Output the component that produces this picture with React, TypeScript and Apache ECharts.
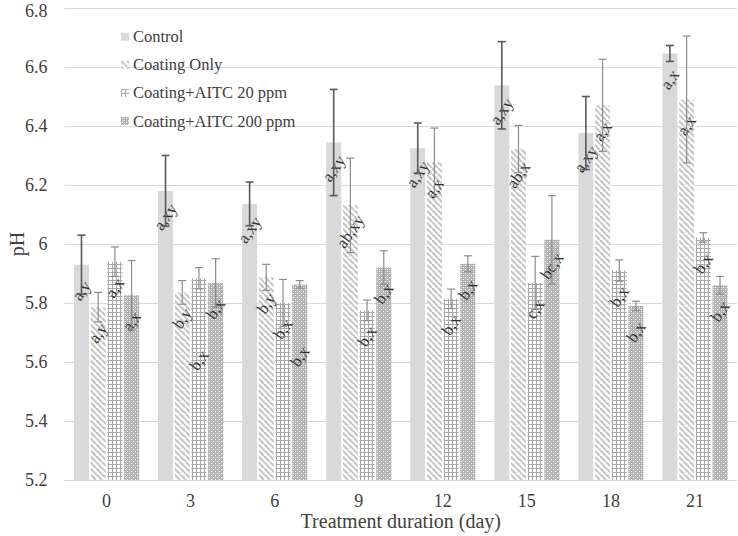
import React, { useEffect, useRef } from "react";
import * as echarts from "echarts";

const days = ["0", "3", "6", "9", "12", "15", "18", "21"];
const seriesNames = ["Control", "Coating Only", "Coating+AITC 20 ppm", "Coating+AITC 200 ppm"];

const controlMean = [5.93, 6.18, 6.136, 6.344, 6.325, 6.538, 6.376, 6.646];
const controlErr = [0.1, 0.12, 0.074, 0.18, 0.085, 0.148, 0.124, 0.027];
const coatingMean = [5.786, 5.836, 5.887, 6.131, 6.277, 6.322, 6.47, 6.49];
const coatingErr = [0.05, 0.04, 0.044, 0.16, 0.116, 0.08, 0.156, 0.215];
const aitc20Mean = [5.94, 5.884, 5.8, 5.775, 5.814, 5.868, 5.91, 6.022];
const aitc20Err = [0.05, 0.036, 0.08, 0.035, 0.033, 0.09, 0.036, 0.016];
const aitc200Mean = [5.826, 5.868, 5.863, 5.92, 5.933, 6.014, 5.79, 5.86];
const aitc200Err = [0.118, 0.082, 0.013, 0.057, 0.027, 0.15, 0.016, 0.03];

const controlLetters = ["a,y", "a,xy", "a,xy", "a,xy", "a,xy", "a,xy", "a,xy", "a,x"];
const coatingLetters = ["a,y", "b,y", "b,y", "ab,xy", "a,x", "ab,x", "a,x", "a,x"];
const aitc20Letters = ["a,x", "b,x", "b,x", "b,x", "b,x", "c,x", "b,x", "b,x"];
const aitc200Letters = ["a,x", "b,x", "b,x", "b,x", "b,x", "bc,x", "b,x", "b,x"];

const yTicks = { min: 5.2, max: 6.8, interval: 0.2 };

// layout tweaks (pixels): label distance below bar top, with a few manual exceptions
const LABEL_DROP = 26;
const labelDropOverride: Record<string, number> = { "1-2": 82, "2-3": 72 };
const BAR_W = 15;
const BAR_GAP = 1.7;

function tile(w: number, h: number, draw: (c: CanvasRenderingContext2D) => void) {
  const c = document.createElement("canvas");
  c.width = w;
  c.height = h;
  const ctx = c.getContext("2d")!;
  draw(ctx);
  return c;
}

export default function App() {
  const ref = useRef<HTMLDivElement>(null);
  useEffect(() => {
    if (!ref.current) return;
    const chart = echarts.init(ref.current, undefined, { renderer: "svg" });

    const stripes = tile(6, 6, (ctx) => {
      ctx.fillStyle = "#ffffff";
      ctx.fillRect(0, 0, 6, 6);
      ctx.strokeStyle = "#c6c6c6";
      ctx.lineWidth = 2.2;
      for (const o of [-6, 0, 6]) {
        ctx.beginPath();
        ctx.moveTo(o, 0);
        ctx.lineTo(o + 6, 6);
        ctx.stroke();
      }
    });
    const grid = tile(4, 4, (ctx) => {
      ctx.fillStyle = "#ffffff";
      ctx.fillRect(0, 0, 4, 4);
      ctx.fillStyle = "#a8a8a8";
      ctx.fillRect(0, 0, 4, 1);
      ctx.fillRect(0, 0, 1, 4);
    });
    const dots = tile(4, 4, (ctx) => {
      ctx.fillStyle = "#b0b0b0";
      ctx.fillRect(0, 0, 4, 4);
      ctx.fillStyle = "#ffffff";
      ctx.fillRect(1, 1, 1, 1);
      ctx.fillRect(3, 3, 1, 1);
      ctx.fillStyle = "#d2d2d2";
      ctx.fillRect(1, 3, 1, 1);
      ctx.fillRect(3, 1, 1, 1);
    });
    const pat = (c: HTMLCanvasElement) => ({
      image: c,
      repeat: "repeat",
      imageWidth: c.width,
      imageHeight: c.height,
    });

    const means = [controlMean, coatingMean, aitc20Mean, aitc200Mean];
    const errs = [controlErr, coatingErr, aitc20Err, aitc200Err];
    const letters = [controlLetters, coatingLetters, aitc20Letters, aitc200Letters];
    const fills: any[] = ["#d9d9d9", pat(stripes), pat(grid), pat(dots)];

    const errData: any[] = [];
    means.forEach((m, si) =>
      m.forEach((v, ci) => errData.push([ci, v, errs[si][ci], si, letters[si][ci]]))
    );

    const font = '"Liberation Serif", "Times New Roman", serif';

    chart.setOption({
      animation: false,
      textStyle: { fontFamily: font },
      grid: {
        left: 64.5,
        right: 1,
        top: 8,
        bottom: 56,
        containLabel: false,
        outerBoundsMode: "none",
      },
      legend: {
        data: seriesNames,
        orient: "vertical",
        left: 121,
        top: 28.2,
        padding: 0,
        itemWidth: 8,
        itemHeight: 8,
        itemGap: 11.1,
        icon: "rect",
        textStyle: { fontFamily: font, fontSize: 16.5, color: "#404040", lineHeight: 16, padding: [0, 0, 0, -1] },
      },
      xAxis: {
        type: "category",
        data: days,
        name: "Treatment duration (day)",
        nameLocation: "middle",
        nameGap: 33,
        nameMoveOverlap: false,
        nameTextStyle: { fontFamily: font, fontSize: 20, color: "#404040", lineHeight: 16 },
        axisLine: { lineStyle: { color: "#d9d9d9", width: 1 } },
        axisTick: { show: false },
        axisLabel: { fontFamily: font, fontSize: 18, color: "#404040", margin: 14, lineHeight: 13 },
      },
      yAxis: {
        type: "value",
        min: yTicks.min,
        max: yTicks.max,
        interval: yTicks.interval,
        name: "pH",
        nameLocation: "middle",
        nameGap: 38,
        nameMoveOverlap: false,
        nameTextStyle: { fontFamily: font, fontSize: 20, color: "#404040", lineHeight: 20 },
        axisLine: { show: false },
        axisTick: { show: false },
        axisLabel: {
          fontFamily: font,
          fontSize: 18,
          color: "#404040",
          margin: 17,
          lineHeight: 12,
          formatter: (v: number) => (Math.abs(v - yTicks.max) < 1e-9 ? `{top|${v}}` : `${v}`),
          rich: {
            top: { fontFamily: font, fontSize: 18, color: "#404040", padding: [6, 0, 0, 0], lineHeight: 12 },
          },
        },
        splitLine: { lineStyle: { color: "#d9d9d9", width: 1 } },
      },
      series: [
        ...seriesNames.map((name, si) => ({
          name,
          type: "bar",
          data: means[si],
          barWidth: BAR_W,
          barGap: ((BAR_GAP / BAR_W) * 100).toFixed(1) + "%",
          itemStyle: { color: fills[si] },
        })),
        {
          type: "custom",
          name: "err",
          coordinateSystem: "cartesian2d",
          encode: { x: 0, y: 1 },
          z: 5,
          data: errData,
          renderItem: (params: any, api: any) => {
            const ci = api.value(0);
            const v = api.value(1);
            const e = api.value(2);
            const si = api.value(3);
            const txt = errData[params.dataIndex][4];
            const off = (si - 1.5) * (BAR_W + BAR_GAP);
            const top = api.coord([ci, v + e]);
            const bot = api.coord([ci, v - e]);
            const mid = api.coord([ci, v]);
            const x = top[0] + off;
            const color = si === 0 ? "#595959" : "#8c8c8c";
            const lw = si === 0 ? 1.6 : 1.2;
            const cap = 4;
            const drop = labelDropOverride[`${ci}-${si}`] ?? LABEL_DROP;
            return {
              type: "group",
              children: [
                {
                  type: "text",
                  x: x,
                  y: mid[1] + drop,
                  rotation: (55 * Math.PI) / 180,
                  style: {
                    text: txt,
                    fill: "#333333",
                    font: `16.5px ${font}`,
                    align: "center",
                    verticalAlign: "middle",
                  },
                },
                { type: "line", shape: { x1: x, y1: top[1], x2: x, y2: bot[1] }, style: { stroke: color, lineWidth: lw } },
                { type: "line", shape: { x1: x - cap, y1: top[1], x2: x + cap, y2: top[1] }, style: { stroke: color, lineWidth: lw } },
                { type: "line", shape: { x1: x - cap, y1: bot[1], x2: x + cap, y2: bot[1] }, style: { stroke: color, lineWidth: lw } },
              ],
            };
          },
        },
      ],
    } as any);
    return () => chart.dispose();
  }, []);
  return (
    <div
      ref={ref}
      style={{ position: "absolute", left: 0, top: 0, width: 738, height: 536, background: "#fff" }}
    />
  );
}
